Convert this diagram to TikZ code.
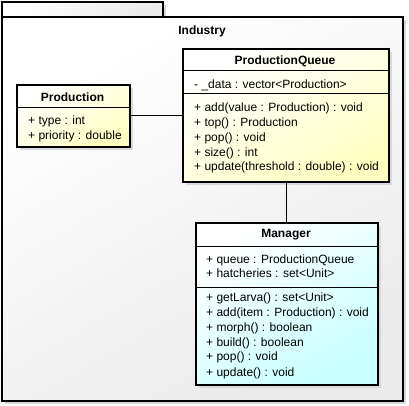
\documentclass[tikz,border=0pt]{standalone}
\usepackage{fontspec}
\setmainfont{Liberation Sans}
\begin{document}
\begin{tikzpicture}[x=1pt,y=-1pt,
  every node/.style={font=\fontsize{12}{14}\selectfont, inner sep=0pt},
  shadowbox/.style={fill=black!15, draw=none},
  frame/.style={draw=black, line width=2pt},
  yellowcls/.style={frame, top color=white, bottom color=yellow!24, shading angle=30},
  cyancls/.style={frame, top color=white, bottom color=cyan!22, shading angle=30},
  pkg/.style={frame, top color=white, bottom color=black!8, shading angle=30},
  sep/.style={draw=black, line width=1pt},
  mem/.style={anchor=base west},
  ttl/.style={font=\fontsize{12}{14}\selectfont\bfseries},
  conn/.style={draw=black, line width=1pt}
]
\useasboundingbox (0,0) rectangle (409,406);
% package shadows
\fill[shadowbox] (5,5) rectangle (166,20);
\fill[shadowbox] (5,20) rectangle (406,404);
% package tab and body
\node[pkg, anchor=north west, minimum width=161pt, minimum height=15pt] (tab) at (1,1) {};
\node[pkg, anchor=north west, minimum width=401pt, minimum height=384pt] (industry) at (1,16) {};
\node[ttl] (industrylbl) at (202,31) {Industry};

% Production
\fill[shadowbox] (20,88) rectangle (133,150);
\node[yellowcls, anchor=north west, minimum width=113pt, minimum height=62pt] (prod) at (16,84) {};
\draw[sep] (16,108) -- (129,108);
\node[ttl] (prodt) at (72.5,97) {Production};
\node[mem] (prod1) at (28,125) {+ type : int};
\node[mem] (prod2) at (28,140) {+ priority : double};

% ProductionQueue
\fill[shadowbox] (186,52) rectangle (392,185);
\node[yellowcls, anchor=north west, minimum width=206pt, minimum height=133pt] (pq) at (182,48) {};
\draw[sep] (182,71) -- (388,71);
\draw[sep] (182,94) -- (388,94);
\node[ttl] (pqt) at (285,61) {ProductionQueue};
\node[mem] (pq0) at (194,89) {- \_data : vector<Production>};
\node[mem] (pq1) at (194,112) {+ add(value : Production) : void};
\node[mem] (pq2) at (194,127) {+ top() : Production};
\node[mem] (pq3) at (194,141.5) {+ pop() : void};
\node[mem] (pq4) at (194,156.5) {+ size() : int};
\node[mem] (pq5) at (194,171) {+ update(threshold : double) : void};

% Manager
\fill[shadowbox] (199,226) rectangle (381,388);
\node[cyancls, anchor=north west, minimum width=182pt, minimum height=162pt] (mgr) at (195,222) {};
\draw[sep] (195,246) -- (377,246);
\draw[sep] (195,287) -- (377,287);
\node[ttl] (mgrt) at (286,235) {Manager};
\node[mem] (m0) at (206,263) {+ queue : ProductionQueue};
\node[mem] (m1) at (206,277) {+ hatcheries : set<Unit>};
\node[mem] (m2) at (206,301) {+ getLarva() : set<Unit>};
\node[mem] (m3) at (206,316) {+ add(item : Production) : void};
\node[mem] (m4) at (206,331) {+ morph() : boolean};
\node[mem] (m5) at (206,346) {+ build() : boolean};
\node[mem] (m6) at (206,360) {+ pop() : void};
\node[mem] (m7) at (206,376) {+ update() : void};

% connectors
\draw[conn] (prod.east) -- (prod.east -| pq.west);
\draw[conn] (pq.south) -- (pq.south |- mgr.north);
\end{tikzpicture}
\end{document}
